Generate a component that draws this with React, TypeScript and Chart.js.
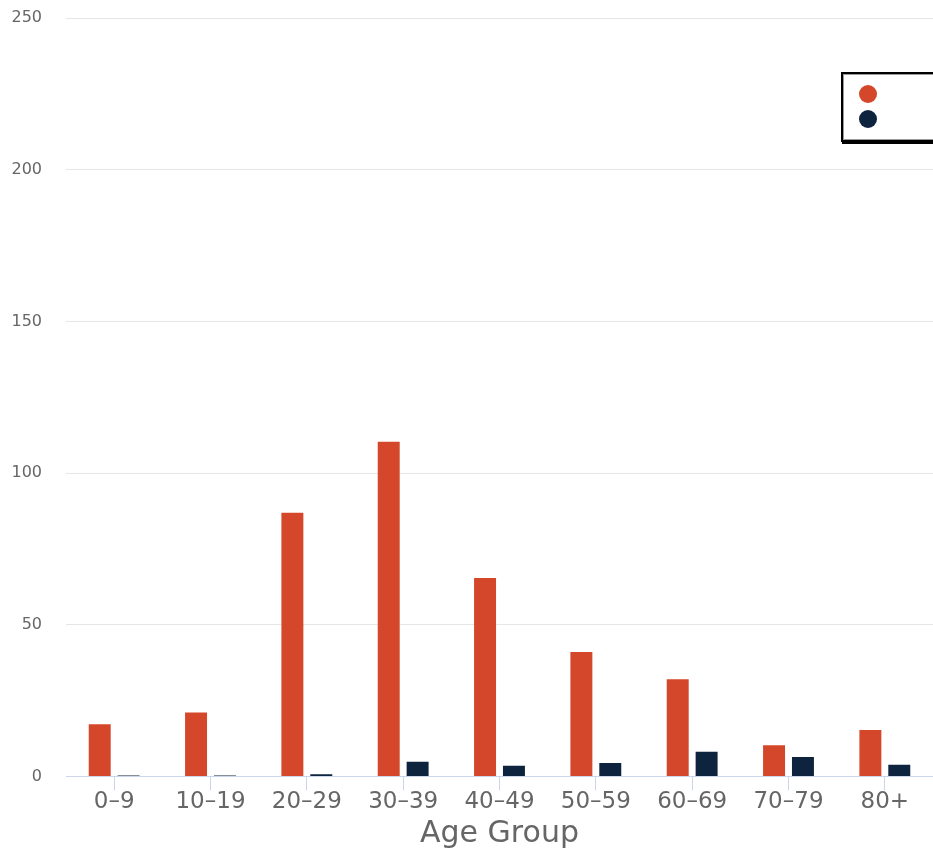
import React, { useEffect, useRef } from "react";
import { Chart, registerables } from "chart.js";

Chart.register(...registerables);

const categories = ["0\u20139", "10\u201319", "20\u201329", "30\u201339", "40\u201349", "50\u201359", "60\u201369", "70\u201379", "80+"];
const seriesNames = ["Cases", "Deaths"];
const casesValues = [17.2, 21.1, 86.9, 110.3, 65.4, 41.0, 32.0, 10.3, 15.3];
const deathsValues = [0.3, 0.3, 0.7, 4.8, 3.5, 4.4, 8.1, 6.4, 3.8];
const seriesColors = ["#d4472a", "#0e233d"];
const yTicks = [0, 50, 100, 150, 200, 250];

const FONT = "'DejaVu Sans', Verdana, sans-serif";

const legendPlugin = {
  id: "boxLegend",
  afterDraw(chart: any) {
    const ctx = chart.ctx;
    ctx.save();
    const x = 842, y = 73, w = 200, h = 68;
    ctx.fillStyle = "#ffffff";
    ctx.fillRect(x, y, w, h);
    ctx.fillStyle = "#000000";
    ctx.fillRect(x, 139, w, 5);
    ctx.strokeStyle = "#000000";
    ctx.lineWidth = 2;
    ctx.strokeRect(x, y, w, h);
    ctx.strokeStyle = "#9a9a9a";
    ctx.lineWidth = 1;
    ctx.strokeRect(x + 1.5, y + 1.5, w, h - 3);
    const ds = chart.data.datasets;
    ds.forEach((d: any, i: number) => {
      const cy = 94 + i * 25;
      ctx.beginPath();
      ctx.arc(868, cy, 9, 0, Math.PI * 2);
      ctx.fillStyle = d.backgroundColor;
      ctx.fill();
      ctx.fillStyle = "#ffffff";
      ctx.font = `16px ${FONT}`;
      ctx.textBaseline = "middle";
      ctx.textAlign = "left";
      ctx.fillText(d.label, 885, cy);
    });
    ctx.restore();
  },
};

export default function App() {
  const ref = useRef<HTMLCanvasElement | null>(null);
  useEffect(() => {
    if (!ref.current) return;
    const chart = new Chart(ref.current, {
      type: "bar",
      data: {
        labels: categories,
        datasets: [
          { label: seriesNames[0], data: casesValues, backgroundColor: seriesColors[0], categoryPercentage: 0.6, barPercentage: 0.76 },
          { label: seriesNames[1], data: deathsValues, backgroundColor: seriesColors[1], categoryPercentage: 0.6, barPercentage: 0.76 },
        ],
      },
      options: {
        animation: false,
        responsive: true,
        maintainAspectRatio: false,
        layout: { padding: { top: 18, right: 0, left: 0, bottom: 4 } },
        plugins: { legend: { display: false }, tooltip: { enabled: false } },
        scales: {
          x: {
            offset: true,
            grid: { offset: false, drawOnChartArea: false, drawTicks: true, tickLength: 14, color: "#ccd6eb" },
            border: { display: true, color: "#ccd6eb", width: 1 },
            ticks: { color: "#666666", font: { family: FONT, size: 23 }, padding: -2, maxRotation: 0 },
            title: { display: true, text: "Age Group", color: "#666666", font: { family: FONT, size: 30 }, padding: { top: 2, bottom: 0 } },
          },
          y: {
            min: 0,
            max: 250,
            afterBuildTicks: (s: any) => { s.ticks = yTicks.map((v) => ({ value: v })); },
            afterFit: (s: any) => { s.width = 66; },
            grid: { color: "#e6e6e6", drawTicks: true, tickLength: 20, tickColor: "rgba(0,0,0,0)" },
            border: { display: false },
            ticks: { color: "#666666", font: { family: FONT, size: 16 }, padding: 4 },
          },
        },
      },
      plugins: [legendPlugin],
    });
    return () => chart.destroy();
  }, []);
  return (
    <div style={{ position: "fixed", left: 0, top: 0, width: 933, height: 856, overflow: "hidden", background: "#fff" }}>
      <canvas ref={ref} />
    </div>
  );
}
